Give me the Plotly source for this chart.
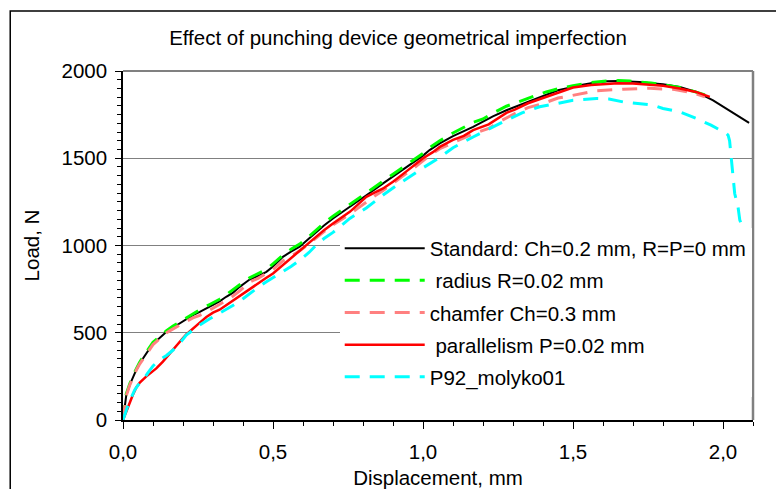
import plotly.graph_objects as go

# Load-displacement curves of the small punch test for several punch geometries
std_x = [0, 0.005, 0.011, 0.022, 0.033, 0.045, 0.056, 0.078, 0.1, 0.122, 0.145, 0.167, 0.189, 0.211,
         0.233, 0.256, 0.289, 0.322, 0.344, 0.367, 0.389, 0.422, 0.45, 0.478, 0.5, 0.533, 0.56, 0.589,
         0.62, 0.644, 0.67, 0.7, 0.73, 0.756, 0.78, 0.811, 0.84, 0.867, 0.9, 0.922, 0.95, 0.978, 1.0,
         1.022, 1.056, 1.1, 1.133, 1.167, 1.2, 1.233, 1.278, 1.3, 1.333, 1.389, 1.411, 1.45, 1.5, 1.522,
         1.56, 1.611, 1.65, 1.689, 1.722, 1.76, 1.8, 1.856, 1.911, 1.967, 2.022, 2.087]
std_y = [0, 70, 143, 200, 248, 290, 325, 382, 439, 470, 506, 530, 554, 575,
         601, 620, 649, 680, 706, 730, 763, 805, 825, 849, 880, 935, 965, 993,
         1040, 1078, 1115, 1155, 1190, 1222, 1250, 1289, 1322, 1356, 1395, 1422, 1457, 1489, 1515,
         1547, 1585, 1627, 1652, 1680, 1710, 1740, 1775, 1790, 1815, 1852, 1868, 1890, 1909, 1919,
         1930, 1941, 1943, 1941, 1937, 1930, 1924, 1909, 1880, 1832, 1775, 1703]

rad_x = [0, 0.005, 0.011, 0.022, 0.033, 0.045, 0.056, 0.078, 0.1, 0.122, 0.145, 0.167, 0.189, 0.211,
         0.233, 0.256, 0.289, 0.322, 0.344, 0.367, 0.389, 0.422, 0.45, 0.478, 0.5, 0.533, 0.56, 0.589,
         0.62, 0.644, 0.67, 0.7, 0.73, 0.756, 0.78, 0.811, 0.84, 0.867, 0.9, 0.922, 0.95, 0.978, 1.0,
         1.022, 1.056, 1.1, 1.133, 1.167, 1.2, 1.233, 1.278, 1.3, 1.333, 1.389, 1.411, 1.45, 1.5, 1.522,
         1.56, 1.611, 1.65, 1.689, 1.722, 1.76, 1.8, 1.856, 1.9, 1.945]
rad_y = [0, 75, 150, 205, 255, 295, 332, 390, 445, 478, 512, 538, 562, 585,
         610, 632, 662, 692, 718, 745, 775, 815, 840, 862, 895, 945, 978, 1008,
         1052, 1090, 1128, 1168, 1204, 1236, 1265, 1302, 1336, 1368, 1408, 1436, 1468, 1500, 1528,
         1560, 1600, 1645, 1675, 1705, 1725, 1758, 1798, 1812, 1836, 1868, 1880, 1898, 1916, 1924,
         1934, 1943, 1945, 1942, 1938, 1931, 1922, 1905, 1885, 1860]

cham_x = [0, 0.005, 0.011, 0.022, 0.033, 0.045, 0.056, 0.078, 0.1, 0.122, 0.145, 0.167, 0.189, 0.211,
          0.233, 0.256, 0.289, 0.322, 0.356, 0.389, 0.422, 0.45, 0.478, 0.5, 0.533, 0.56, 0.589, 0.62,
          0.644, 0.67, 0.7, 0.73, 0.756, 0.78, 0.811, 0.84, 0.867, 0.9, 0.922, 0.95, 0.978, 1.0, 1.022,
          1.056, 1.111, 1.136, 1.167, 1.219, 1.26, 1.306, 1.35, 1.4, 1.45, 1.489, 1.53, 1.578, 1.667,
          1.756, 1.839, 1.9, 1.94]
cham_y = [0, 68, 140, 198, 245, 288, 322, 378, 432, 465, 500, 522, 545, 565,
          585, 600, 630, 662, 697, 740, 790, 812, 838, 862, 912, 942, 970, 1010,
          1045, 1080, 1118, 1150, 1180, 1210, 1250, 1285, 1315, 1355, 1385, 1420, 1455, 1485, 1515,
          1555, 1598, 1614, 1640, 1671, 1715, 1756, 1790, 1814, 1845, 1857, 1872, 1886, 1896,
          1901, 1894, 1875, 1852]

par_x = [0, 0.011, 0.022, 0.033, 0.044, 0.056, 0.078, 0.1, 0.111, 0.133, 0.156, 0.178, 0.2, 0.211,
         0.233, 0.256, 0.278, 0.3, 0.322, 0.35, 0.378, 0.4, 0.422, 0.45, 0.478, 0.5, 0.533, 0.56,
         0.589, 0.62, 0.644, 0.67, 0.7, 0.73, 0.756, 0.78, 0.811, 0.84, 0.867, 0.9, 0.922, 0.95, 0.978,
         1.0, 1.033, 1.056, 1.1, 1.136, 1.167, 1.219, 1.278, 1.306, 1.35, 1.4, 1.45, 1.5, 1.56, 1.611,
         1.65, 1.7, 1.744, 1.8, 1.856, 1.91, 1.956]
par_y = [0, 50, 95, 145, 185, 215, 250, 280, 296, 335, 382, 430, 470, 490,
         525, 558, 590, 615, 632, 665, 697, 725, 754, 785, 815, 840, 888, 930,
         974, 1015, 1050, 1088, 1126, 1160, 1193, 1230, 1279, 1305, 1327, 1365, 1393, 1432, 1470,
         1500, 1535, 1565, 1605, 1628, 1661, 1694, 1760, 1779, 1815, 1846, 1875, 1905, 1920, 1928,
         1930, 1928, 1924, 1915, 1900, 1880, 1852]

p92_x = [0, 0.008, 0.017, 0.028, 0.039, 0.05, 0.067, 0.083, 0.1, 0.122, 0.145, 0.167, 0.189, 0.211,
         0.233, 0.256, 0.289, 0.322, 0.35, 0.378, 0.4, 0.422, 0.45, 0.478, 0.5, 0.533, 0.56, 0.589,
         0.62, 0.644, 0.67, 0.7, 0.756, 0.811, 0.867, 0.922, 0.978, 1.0, 1.056, 1.1, 1.167, 1.22,
         1.278, 1.33, 1.389, 1.45, 1.5, 1.578, 1.62, 1.667, 1.72, 1.767, 1.8, 1.856, 1.911, 1.96,
         2.011, 2.017, 2.022, 2.028, 2.033, 2.039, 2.05, 2.056, 2.067, 2.078, 2.094, 2.105]
p92_y = [0, 45, 86, 130, 172, 200, 229, 270, 310, 345, 370, 401, 440, 487,
         515, 544, 580, 611, 640, 668, 695, 726, 760, 792, 815, 849, 880, 916,
         960, 1002, 1040, 1075, 1155, 1215, 1289, 1356, 1422, 1445, 1505, 1560, 1622, 1670,
         1718, 1760, 1795, 1815, 1832, 1842, 1840, 1823, 1812, 1804, 1785, 1766, 1728, 1690,
         1642, 1632, 1600, 1489, 1413, 1298, 1222, 1145, 1100, 1069, 974, 920]

x_ticks = [0.0, 0.5, 1.0, 1.5, 2.0]
y_ticks = [0, 500, 1000, 1500, 2000]

series = [
    ("Standard: Ch=0.2 mm, R=P=0 mm", std_x, std_y, "#000000", 2, "solid"),
    ("\u00a0radius R=0.02 mm", rad_x, rad_y, "#00ff00", 3, "15px,10px"),
    ("chamfer Ch=0.3 mm", cham_x, cham_y, "#ff8080", 3, "15px,10px"),
    ("\u00a0parallelism P=0.02 mm", par_x, par_y, "#ff0000", 2.5, "solid"),
    ("P92_molyko01", p92_x, p92_y, "#00ffff", 3, "15px,10px"),
]

fig = go.Figure()
for i, (name, xs, ys, color, width, dash) in enumerate(series):
    fig.add_trace(go.Scatter(
        x=xs, y=ys, mode="lines", name=name, legendgroup=f"g{i}",
        line=dict(color=color, width=width, dash=dash),
    ))

FONT = "Liberation Sans, Arial, sans-serif"
FS = 20.5

fig.update_layout(
    width=776, height=489,
    margin=dict(l=123, r=23, t=71, b=69),
    paper_bgcolor="white", plot_bgcolor="white",
    font=dict(family=FONT, size=FS, color="black"),
    separators=", ",
    title=dict(text="Effect of punching device geometrical imperfection",
               x=0.4365, xref="paper", xanchor="center",
               y=1 - 38 / 489, yref="container", yanchor="middle",
               font=dict(size=FS)),
    showlegend=True,
    legend=dict(x=0.344, y=0.549, xanchor="left", yanchor="top",
                bgcolor="white", borderwidth=0, itemwidth=80,
                traceorder="grouped", tracegroupgap=2.5,
                font=dict(size=FS)),
    xaxis=dict(range=[0, 2.1], tickvals=x_ticks, tickformat=".1f", automargin=False,
               ticks="outside", ticklen=7, tickwidth=1, tickcolor="black",
               minor=dict(dtick=0.1, ticks="outside", ticklen=4, tickcolor="black"),
               showline=True, linecolor="black", linewidth=1.5,
               showgrid=False, zeroline=False, ticklabelstandoff=6,
               title=dict(text="Displacement, mm", standoff=10, font=dict(size=FS))),
    yaxis=dict(range=[0, 2000], tickvals=y_ticks, automargin=False,
               ticks="outside", ticklen=6, tickwidth=1, tickcolor="black",
               minor=dict(dtick=50, ticks="outside", ticklen=4, tickcolor="black", showgrid=False),
               showline=True, linecolor="black", linewidth=1.5,
               showgrid=True, gridcolor="#808080", gridwidth=1, zeroline=False,
               ticklabelstandoff=4,
               title=dict(text="Load, N", standoff=16, font=dict(size=FS))),
    shapes=[
        # grey frame along the top and right of the plotting area
        dict(type="line", xref="paper", yref="paper", x0=0, x1=1, y0=1, y1=1,
             line=dict(color="#808080", width=2)),
        dict(type="line", xref="paper", yref="paper", x0=1, x1=1, y0=0, y1=1,
             line=dict(color="#808080", width=2.5)),
        # outer chart border
        dict(type="rect", xref="paper", yref="paper",
             x0=-0.179, x1=1.1, y0=-0.3, y1=1.172,
             line=dict(color="black", width=1.5), fillcolor="rgba(0,0,0,0)"),
    ],
)

fig.write_html("out.html")
